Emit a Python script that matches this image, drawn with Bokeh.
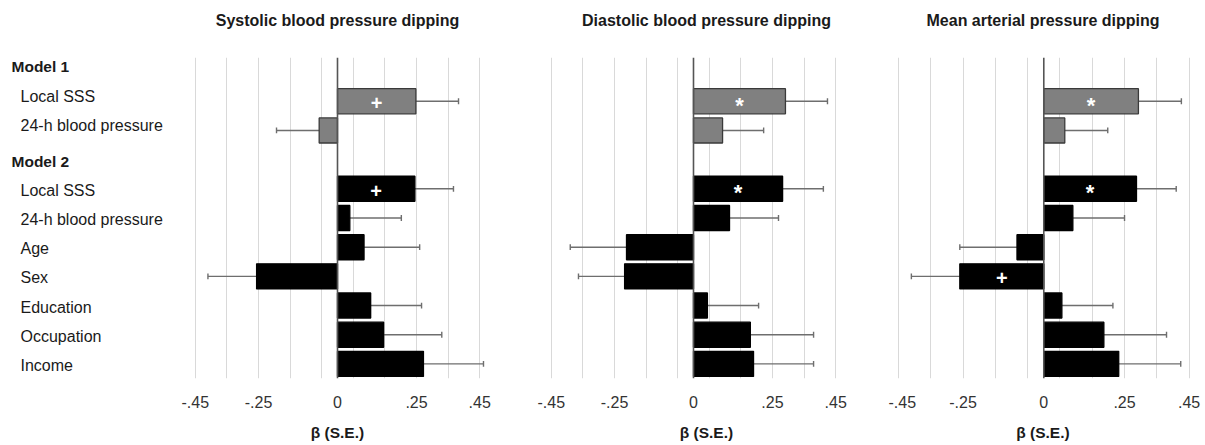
from bokeh.plotting import figure
from bokeh.layouts import row, column
from bokeh.models import Range1d, FixedTicker, Span, ColumnDataSource
from bokeh.core.properties import value
from bokeh.embed import file_html
from bokeh.resources import INLINE

FONT = "Liberation Sans"

# ---------------- data ----------------
m1_predictors = ["Local SSS", "24-h blood pressure"]
m2_predictors = ["Local SSS", "24-h blood pressure", "Age", "Sex", "Education", "Occupation", "Income"]
model_names = ["Model 1", "Model 2"]

panel_titles = ["Systolic blood pressure dipping", "Diastolic blood pressure dipping", "Mean arterial pressure dipping"]

sbp_m1_beta = [0.248, -0.058]
sbp_m1_se = [0.135, 0.135]
sbp_m1_sig = ["+", ""]
sbp_m2_beta = [0.245, 0.039, 0.084, -0.256, 0.105, 0.146, 0.272]
sbp_m2_se = [0.122, 0.163, 0.176, 0.154, 0.161, 0.184, 0.190]
sbp_m2_sig = ["+", "", "", "", "", "", ""]

dbp_m1_beta = [0.291, 0.092]
dbp_m1_se = [0.133, 0.130]
dbp_m1_sig = ["*", ""]
dbp_m2_beta = [0.282, 0.114, -0.212, -0.218, 0.044, 0.180, 0.190]
dbp_m2_se = [0.129, 0.155, 0.178, 0.146, 0.162, 0.200, 0.190]
dbp_m2_sig = ["*", "", "", "", "", "", ""]

map_m1_beta = [0.293, 0.065]
map_m1_se = [0.133, 0.133]
map_m1_sig = ["*", ""]
map_m2_beta = [0.287, 0.090, -0.083, -0.260, 0.056, 0.186, 0.232]
map_m2_se = [0.123, 0.160, 0.177, 0.150, 0.158, 0.194, 0.192]
map_m2_sig = ["*", "", "", "+", "", "", ""]

tick_values = [-0.45, -0.25, 0, 0.25, 0.45]
tick_labels = ["-.45", "-.25", "0", ".25", ".45"]
grid_values = [-0.45, -0.35, -0.25, -0.15, -0.05, 0.05, 0.15, 0.25, 0.35, 0.45]
axis_title = "β (S.E.)"

# row layout (top to bottom)
m1_rows = [1 + i for i in range(len(m1_predictors))]
m2_head = 1 + len(m1_predictors)
m2_rows = [m2_head + 1 + i for i in range(len(m2_predictors))]
n_rows = m2_rows[-1] + 1

# ---------------- layout constants (pixels) ----------------
W = 1205
TITLE_H = 40
H = 445 - TITLE_H
TOP = 17
BOTTOM = 67
LAB_W = 179
# (figure width, x start, x end, border left, border right)
P1 = (316, -0.5, 0.5, 0, 0)
P2 = (393, -0.5, 0.5823, 40, 11)
P3 = (317, -0.4808, 0.4759, 0, 8)


def ybase():
    return Range1d(n_rows - 0.5, -0.5)


def make_panel(groups, spec):
    width, xs, xe, bl, br = spec
    p = figure(width=width, height=H, x_range=Range1d(xs, xe), y_range=ybase(),
               output_backend="svg", toolbar_location=None, title_location=None,
               min_border_left=bl, min_border_right=br,
               min_border_top=TOP, min_border_bottom=BOTTOM)
    p.outline_line_color = None
    p.yaxis.visible = False
    p.ygrid.visible = False
    p.xgrid.ticker = FixedTicker(ticks=grid_values)
    p.xgrid.grid_line_color = "#d9d9d9"
    p.xgrid.grid_line_width = 1
    p.xaxis.ticker = FixedTicker(ticks=tick_values)
    p.xaxis.major_label_overrides = {v: l for v, l in zip(tick_values, tick_labels)}
    p.xaxis.axis_line_color = None
    p.xaxis.major_tick_line_color = None
    p.xaxis.minor_tick_line_color = None
    p.xaxis.major_label_text_font = FONT
    p.xaxis.major_label_text_font_size = "16px"
    p.xaxis.major_label_text_color = "#333333"
    p.xaxis.major_label_standoff = 11
    p.xaxis.axis_label = axis_title
    p.xaxis.axis_label_text_font = FONT
    p.xaxis.axis_label_text_font_size = "15.5px"
    p.xaxis.axis_label_text_font_style = "bold"
    p.xaxis.axis_label_text_color = "#1a1a1a"
    p.xaxis.axis_label_standoff = 13

    for (ys, beta, se, sig, fill, line) in groups:
        ends = [b + (se_i if b >= 0 else -se_i) for b, se_i in zip(beta, se)]
        src = ColumnDataSource(dict(y=ys, beta=beta, end=ends,
                                    c0=[y - 0.1 for y in ys], c1=[y + 0.1 for y in ys]))
        p.segment(x0="beta", x1="end", y0="y", y1="y", source=src,
                  line_color="#6e6e6e", line_width=1.4)
        p.segment(x0="end", x1="end", y0="c0", y1="c1", source=src,
                  line_color="#6e6e6e", line_width=1.4)
        p.hbar(y="y", left=0, right="beta", height=0.86, source=src,
               fill_color=fill, line_color=line, line_width=1.3)
        mids = [b / 2 for b in beta]
        plus_x = [m for m, s in zip(mids, sig) if s == "+"]
        plus_y = [y for y, s in zip(ys, sig) if s == "+"]
        star_x = [m for m, s in zip(mids, sig) if s == "*"]
        star_y = [y for y, s in zip(ys, sig) if s == "*"]
        if plus_x:
            p.text(x=plus_x, y=plus_y, text=["+"] * len(plus_x),
                   text_font=value(FONT), text_font_style="bold", text_font_size="20px",
                   text_color="white", text_align="center", text_baseline="middle", y_offset=2)
        if star_x:
            p.text(x=star_x, y=star_y, text=["*"] * len(star_x),
                   text_font=value(FONT), text_font_style="bold", text_font_size="22px",
                   text_color="white", text_align="center", text_baseline="middle", y_offset=4)

    p.add_layout(Span(location=0, dimension="height", line_color="#555555", line_width=1.6))
    return p


# ---------------- title strip ----------------
frame_centers = []
left = LAB_W
for spec in (P1, P2, P3):
    width, xs, xe, bl, br = spec
    frame_centers.append(left + bl + (width - bl - br) / 2)
    left += width

tt = figure(width=W, height=TITLE_H, x_range=Range1d(0, W), y_range=Range1d(TITLE_H, 0),
            output_backend="svg", toolbar_location=None, title_location=None,
            min_border_left=0, min_border_right=0, min_border_top=0, min_border_bottom=0)
tt.outline_line_color = None
tt.axis.visible = False
tt.grid.visible = False
tt.text(x=frame_centers, y=[20] * 3, text=panel_titles, text_font=value(FONT),
        text_font_style="bold", text_font_size="16px", text_color="#1a1a1a",
        text_align="center", text_baseline="middle")

# ---------------- labels column ----------------
lab = figure(width=LAB_W, height=H, x_range=Range1d(0, LAB_W), y_range=ybase(),
             output_backend="svg", toolbar_location=None, title_location=None,
             min_border_left=0, min_border_right=0, min_border_top=TOP, min_border_bottom=BOTTOM)
lab.outline_line_color = None
lab.axis.visible = False
lab.grid.visible = False
lab.text(x=[11, 11], y=[0, m2_head], text=model_names, text_font=value(FONT),
         text_font_style="bold", text_font_size="15.5px", text_color="#1a1a1a",
         text_baseline="middle", y_offset=[-5.5, 1.5])
lab.text(x=[20] * len(m1_rows), y=m1_rows, text=m1_predictors, text_font=value(FONT),
         text_font_size="16px", text_color="#1a1a1a", text_baseline="middle", y_offset=-4.5)
lab.text(x=[20] * len(m2_rows), y=m2_rows, text=m2_predictors, text_font=value(FONT),
         text_font_size="16px", text_color="#1a1a1a", text_baseline="middle", y_offset=1.5)

GRAY, GRAY_LINE = "#808080", "#3a3a3a"
BLACK = "#000000"

p1 = make_panel([
    (m1_rows, sbp_m1_beta, sbp_m1_se, sbp_m1_sig, GRAY, GRAY_LINE),
    (m2_rows, sbp_m2_beta, sbp_m2_se, sbp_m2_sig, BLACK, BLACK)], P1)
p2 = make_panel([
    (m1_rows, dbp_m1_beta, dbp_m1_se, dbp_m1_sig, GRAY, GRAY_LINE),
    (m2_rows, dbp_m2_beta, dbp_m2_se, dbp_m2_sig, BLACK, BLACK)], P2)
p3 = make_panel([
    (m1_rows, map_m1_beta, map_m1_se, map_m1_sig, GRAY, GRAY_LINE),
    (m2_rows, map_m2_beta, map_m2_se, map_m2_sig, BLACK, BLACK)], P3)

layout = column(tt, row(lab, p1, p2, p3))
open("out.html", "w").write(file_html(layout, INLINE))
